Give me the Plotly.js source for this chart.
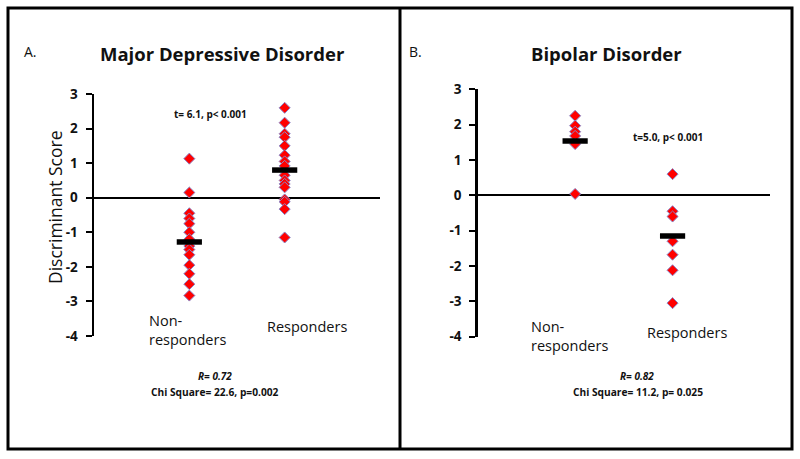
<!DOCTYPE html>
<html>
<head>
<meta charset="utf-8">
<script src="https://cdn.plot.ly/plotly-3.0.1.min.js"></script>
<style>html,body{margin:0;padding:0;background:#fff;}#chart{width:800px;height:459px;}</style>
</head>
<body>
<div id="chart"></div>
<script>
// ---- data ----
const categories = ['Non-responders', 'Responders'];
const mddNonResponders = [1.13, 0.15, -0.45, -0.6, -0.75, -1.0, -1.2, -1.4, -1.5, -1.65, -1.95, -2.2, -2.5, -2.83];
const mddResponders = [2.6, 2.17, 1.85, 1.75, 1.5, 1.23, 1.05, 0.92, 0.65, 0.5, 0.4, 0.3, -0.05, -0.12, -0.33, -1.15];
const mddMeans = [-1.28, 0.8];
const bpNonResponders = [2.25, 1.97, 1.8, 1.68, 1.45, 0.04];
const bpResponders = [0.6, -0.45, -0.6, -1.3, -1.68, -2.12, -3.05];
const bpMeans = [1.54, -1.15];
const yTickValues = [3, 2, 1, 0, -1, -2, -3, -4];
const yTickLabels = ['3', '2', '1', '0', '-1', '-2', '-3', '-4'];

// ---- helpers for pixel placement (margins are zero, paper == figure) ----
const W = 800, H = 459;
const px = x => x / W;
const py = y => 1 - y / H;

const diamond = {symbol: 'diamond', size: 8.5, color: '#ff0000', line: {color: '#8a86c8', width: 1}};
const meanMark = {symbol: 'line-ew', size: 18, line: {color: '#000000', width: 5.5}};

function pointsTrace(cat, values, xa, ya) {
  return {type: 'scatter', mode: 'markers', x: values.map(() => cat), y: values,
          xaxis: xa, yaxis: ya, marker: diamond, showlegend: false, hoverinfo: 'skip'};
}
function meanTrace(means, xa, ya) {
  return {type: 'scatter', mode: 'markers', x: categories, y: means,
          xaxis: xa, yaxis: ya, marker: meanMark, showlegend: false, hoverinfo: 'skip'};
}

const traces = [
  pointsTrace(categories[0], mddNonResponders, 'x', 'y'),
  pointsTrace(categories[1], mddResponders, 'x', 'y'),
  meanTrace(mddMeans, 'x', 'y'),
  pointsTrace(categories[0], bpNonResponders, 'x2', 'y2'),
  pointsTrace(categories[1], bpResponders, 'x2', 'y2'),
  meanTrace(bpMeans, 'x2', 'y2')
];

const tickFont = {family: 'Open Sans, sans-serif', size: 13.5, color: '#111', weight: 'bold'};
function yAxis(anchor, domain) {
  return {anchor: anchor, domain: domain, range: [-4, 3],
          tickmode: 'array', tickvals: yTickValues, ticktext: yTickLabels,
          showline: true, linecolor: '#000', linewidth: 2.5, mirror: false,
          ticks: 'outside', ticklen: 6, tickwidth: 2, tickcolor: '#000',
          ticklabelstandoff: 5, tickfont: tickFont,
          showgrid: false, zeroline: true, zerolinecolor: '#000', zerolinewidth: 2.2,
          fixedrange: true};
}
function xAxis(anchor, domain) {
  return {anchor: anchor, domain: domain, type: 'category', categoryarray: categories,
          range: [-1, 2], showline: false, showgrid: false, zeroline: false,
          showticklabels: false, ticks: '', fixedrange: true};
}

const txt = '#111111';
const fam = 'Open Sans, sans-serif';
function note(text, x, y, size, opts) {
  return Object.assign({xref: 'paper', yref: 'paper', x: px(x), y: py(y), text: text,
          showarrow: false, xanchor: 'center', yanchor: 'middle',
          font: {family: fam, size: size, color: txt}}, opts || {});
}

const annotations = [
  note('A.', 30, 52, 14),
  note('<b>Major Depressive Disorder</b>', 222, 53, 18.5),
  note('<b>t= 6.1, p< 0.001</b>', 210, 114, 10),
  note('Discriminant Score', 55, 208, 17.5, {textangle: -90}),
  note('Non-<br>responders', 147, 329.5, 14.5, {xanchor: 'left', align: 'left'}),
  note('Responders', 306.5, 326, 14.5),
  note('<b><i>R= 0.72</i></b>', 215, 376, 10),
  note('<b>Chi Square= 22.6, p=0.002</b>', 215, 391.5, 10.2),

  note('B.', 415, 52, 14),
  note('<b>Bipolar Disorder</b>', 606, 53, 18.5),
  note('<b>t=5.0, p< 0.001</b>', 668, 137, 10),
  note('Non-<br>responders', 529, 336, 14.5, {xanchor: 'left', align: 'left'}),
  note('Responders', 687, 332.5, 14.5),
  note('<b><i>R= 0.82</i></b>', 637, 376, 10),
  note('<b>Chi Square= 11.2, p= 0.025</b>', 637.5, 391.5, 10.2)
];

const shapes = [
  {type: 'rect', xref: 'paper', yref: 'paper', x0: px(8), x1: px(792), y0: py(449), y1: py(8),
   line: {color: '#000', width: 3}, fillcolor: 'rgba(0,0,0,0)'},
  {type: 'line', xref: 'paper', yref: 'paper', x0: px(400), x1: px(400), y0: py(449), y1: py(8),
   line: {color: '#000', width: 3}}
];

const layout = {
  width: W, height: H,
  margin: {l: 0, r: 0, t: 0, b: 0, pad: 0},
  paper_bgcolor: '#ffffff', plot_bgcolor: 'rgba(0,0,0,0)',
  showlegend: false,
  xaxis: xAxis('y', [px(94), px(380)]),
  yaxis: yAxis('x', [py(336), py(94)]),
  xaxis2: xAxis('y2', [px(477.7), px(770)]),
  yaxis2: yAxis('x2', [py(336.7), py(89.3)]),
  annotations: annotations,
  shapes: shapes
};

Plotly.newPlot('chart', traces, layout, {staticPlot: true, displayModeBar: false});
</script>
</body>
</html>
